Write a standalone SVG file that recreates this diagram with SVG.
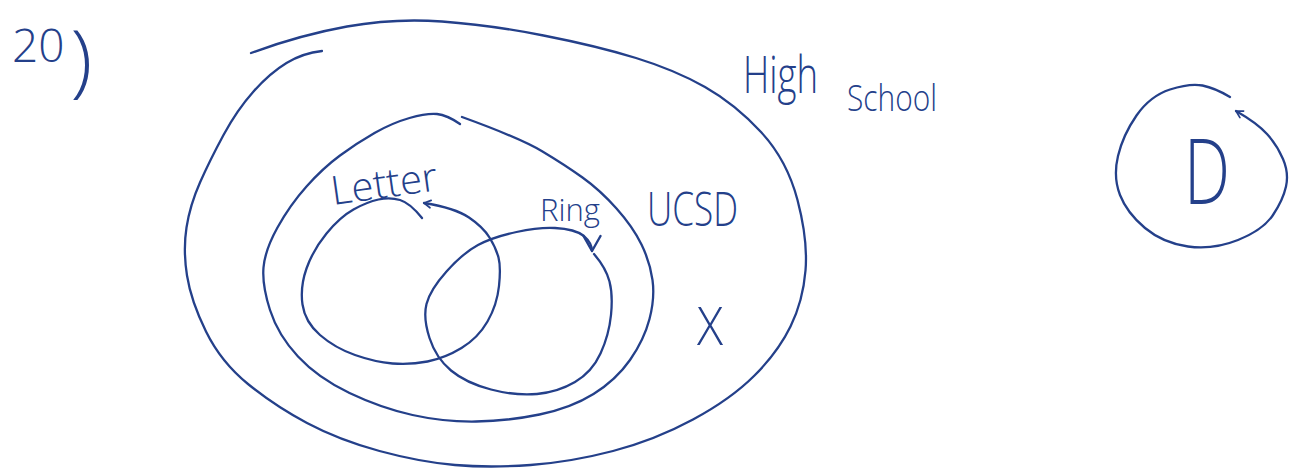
<svg xmlns="http://www.w3.org/2000/svg" width="1291" height="471" viewBox="0 0 1291 471">
  <style>
    .ink { fill: none; stroke: #24408a; stroke-width: 2.3; stroke-linecap: round; stroke-linejoin: round; }
    .hand { fill: #24408a; font-family: "Open Sans", "Liberation Sans", sans-serif; font-weight: 300; }
  </style>
  <defs>
    <marker id="arrS" viewBox="0 0 12 12" refX="10" refY="6" markerWidth="10" markerHeight="10" orient="auto" markerUnits="userSpaceOnUse">
      <path d="M2,1.5 L10,6 L2,10.5" fill="none" stroke="#24408a" stroke-width="2" stroke-linecap="round" stroke-linejoin="round"/>
    </marker>
    <marker id="arrL" viewBox="0 0 20 20" refX="18" refY="10" markerWidth="20" markerHeight="20" orient="auto" markerUnits="userSpaceOnUse">
      <path d="M3,1.5 L18,10 L3,18.5" fill="none" stroke="#24408a" stroke-width="2.4" stroke-linecap="round" stroke-linejoin="round"/>
    </marker>
  </defs>
  <rect width="1291" height="471" fill="#ffffff"/>

  <g id="label-20">
    <text class="hand" x="12" y="62" font-size="46">20<tspan font-size="80" dx="6" dy="25">)</tspan></text>
  </g>

  <g id="high-school">
    <path class="ink" d="M251,53 Q300,35 347,26.5 Q394,18 442,21.5 Q490,25 543.5,35.5 Q597,46 636,58 Q675,70 705,87 Q735,104 761,132 Q787,160 797.5,200 Q808,240 805.5,270.5 Q803,301 790.5,326.5 Q778,352 754.5,375.5 Q731,399 693,419.5 Q655,440 613,451 Q571,462 530.5,465 Q490,468 455,465 Q420,462 379.5,451 Q339,440 307,423 Q275,406 248,384 Q221,362 206,331.5 Q191,301 187,275.5 Q183,250 186.5,227.5 Q190,205 200,182.5 Q210,160 223.5,135 Q237,110 253.5,91.5 Q270,73 286.5,63 Q303,53 322,51"/>
    <text class="hand" x="743" y="93" font-size="52" textLength="75" lengthAdjust="spacingAndGlyphs">High</text>
    <text class="hand" x="847" y="111" font-size="36" textLength="90" lengthAdjust="spacingAndGlyphs">School</text>
  </g>

  <g id="ucsd">
    <path class="ink" d="M462,117 Q520,138 542.5,151.5 Q565,165 582.5,177.5 Q600,190 616.5,208.5 Q633,227 641.5,244.5 Q650,262 652.5,280 Q655,298 649.5,319 Q644,340 630,360 Q616,380 593.5,394 Q571,408 539.5,414.5 Q508,421 476,421.5 Q444,422 412.5,415 Q381,408 349.5,393 Q318,378 298,356.5 Q278,335 270,310 Q262,285 263.5,267.5 Q265,250 277.5,227.5 Q290,205 306.5,186.5 Q323,168 340,155.5 Q357,143 374.5,133 Q392,123 409.5,118 Q427,113 437,114 Q447,115 460,124"/>
    <text class="hand" x="647" y="226" font-size="48" textLength="91" lengthAdjust="spacingAndGlyphs">UCSD</text>
  </g>

  <g id="letter">
    <path class="ink" marker-end="url(#arrS)" d="M422,218 Q410,203 400,200 Q390,197 378.5,199.5 Q367,202 353.5,209.5 Q340,217 326.5,233.5 Q313,250 306.5,268.5 Q300,287 302.5,304.5 Q305,322 320,335 Q335,348 355,355 Q375,362 392.5,363.5 Q410,365 427.5,361.5 Q445,358 461.5,348 Q478,338 487.5,321.5 Q497,305 499,286 Q501,267 498.5,257.5 Q496,248 489.5,237.5 Q483,227 469,217.5 Q455,208 424,203"/>
    <text class="hand" x="333" y="205" font-size="40" textLength="107" lengthAdjust="spacingAndGlyphs" transform="rotate(-8 333 205)">Letter</text>
  </g>

  <g id="ring">
    <path class="ink" marker-end="url(#arrL)" d="M594,254 Q606,268 609.5,281.5 Q613,295 611,315 Q609,335 600.5,353.5 Q592,372 575,382 Q558,392 537,394 Q516,396 491,389.5 Q466,383 451,370.5 Q436,358 429.5,338 Q423,318 426.5,304 Q430,290 446.5,271.5 Q463,253 478,245 Q493,237 516.5,232 Q540,227 555,228 Q575,229 584,236 Q592,243 592,251"/>
    <text class="hand" x="540" y="221" font-size="32" textLength="60" lengthAdjust="spacingAndGlyphs">Ring</text>
  </g>

  <g id="x-element">
    <text class="hand" x="697" y="345" font-size="54" textLength="26" lengthAdjust="spacingAndGlyphs">X</text>
  </g>

  <g id="d-set">
    <path class="ink" marker-end="url(#arrS)" d="M1230,97 Q1215,88 1202.5,85.5 Q1190,83 1170,89.5 Q1150,96 1136.5,115.5 Q1123,135 1118,156 Q1113,177 1120,195 Q1127,213 1145,228 Q1163,243 1188,246.5 Q1213,250 1238,240 Q1263,230 1273,215 Q1283,200 1286,186.5 Q1289,173 1283,159 Q1277,145 1267,134 Q1257,123 1236,111"/>
    <text class="hand" x="1184" y="204" font-size="90" textLength="46" lengthAdjust="spacingAndGlyphs">D</text>
  </g>

  <g id="connectors"></g>
</svg>
